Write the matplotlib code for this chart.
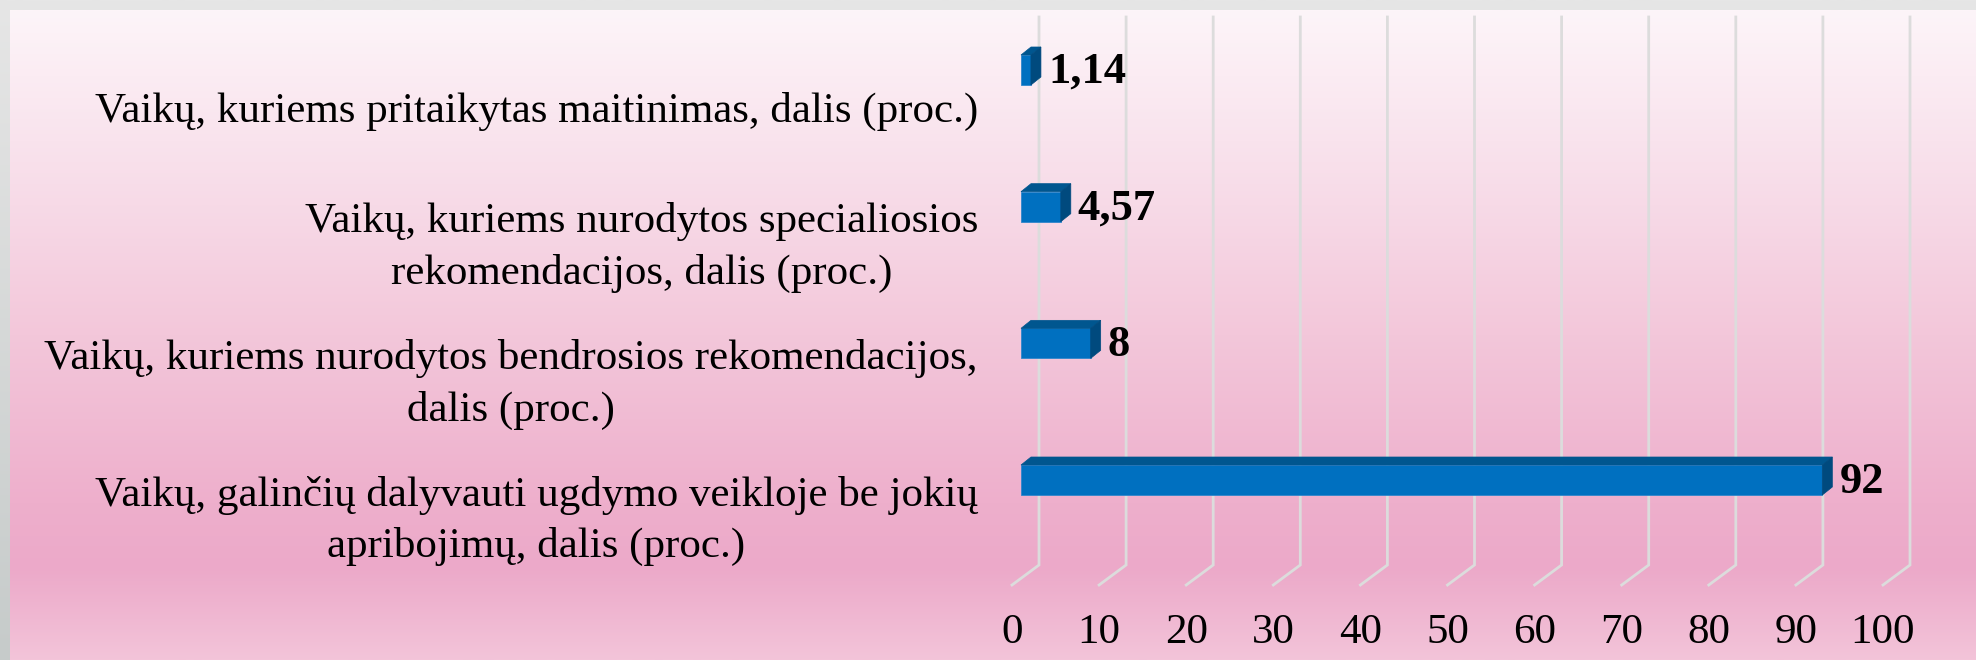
import numpy as np
import matplotlib
matplotlib.use("Agg")
import matplotlib.pyplot as plt
from matplotlib.patches import Polygon
from matplotlib.colors import LinearSegmentedColormap

# ---------------- data ----------------
categories = [
    "Vaikų, galinčių dalyvauti ugdymo veikloje be jokių\napribojimų, dalis (proc.)",
    "Vaikų, kuriems nurodytos bendrosios rekomendacijos,\ndalis (proc.)",
    "Vaikų, kuriems nurodytos specialiosios\nrekomendacijos, dalis (proc.)",
    "Vaikų, kuriems pritaikytas maitinimas, dalis (proc.)",
]
values = [92, 8, 4.57, 1.14]
value_labels = ["92", "8", "4,57", "1,14"]
xticks = [0, 10, 20, 30, 40, 50, 60, 70, 80, 90, 100]

# ---------------- layout constants (pixels) ----------------
W, H = 1976, 660
X0PX = 1039.0      # pixel of x=0 on back plane
PX = 8.71          # pixels per x unit
Y0PX = 480.0       # pixel (from top) of first category centre
PY = 136.67        # pixels per category

FONT = ["Liberation Serif", "DejaVu Serif"]
FS = 31

plt.rcParams["font.family"] = FONT

fig = plt.figure(figsize=(W / 100, H / 100), dpi=100)

# gray outer frame gradient
gax = fig.add_axes([0, 0, 1, 1])
gray = LinearSegmentedColormap.from_list("g", ["#e6e6e6", "#c6cbca"])
gax.imshow(np.linspace(0, 1, 256).reshape(-1, 1), aspect="auto", cmap=gray,
           extent=[0, 1, 0, 1], origin="upper")
gax.axis("off")

# pink panel gradient
pax = fig.add_axes([10 / W, 0, 1 - 10 / W, 1 - 10 / H])
pink = LinearSegmentedColormap.from_list(
    "p",
    [(0.0, "#fdf5f9"), (0.30, "#f7dae7"), (0.50, "#f3c7da"),
     (0.76, "#eeafcc"), (0.86, "#eca9c9"), (1.0, "#f3c4d9")])
pax.imshow(np.linspace(0, 1, 256).reshape(-1, 1), aspect="auto", cmap=pink,
           extent=[0, 1, 0, 1], origin="upper")
pax.axis("off")

# main drawing axes covering whole figure, data coords mapped to pixels
ax = fig.add_axes([0, 0, 1, 1])
ax.set_xlim((0 - X0PX) / PX, (W - X0PX) / PX)
ax.set_ylim((Y0PX - H) / PY, (Y0PX - 0) / PY)
ax.axis("off")
ax.patch.set_alpha(0)

def ypx(py):
    return (Y0PX - py) / PY

# gridlines with 3D floor
top_i = ypx(17)
floor_back = ypx(565)
floor_front = ypx(585)
for t in xticks:
    ax.plot([t, t, t - 27 / PX], [top_i, floor_back, floor_front],
            color="#dcdcdc", lw=2.0, zorder=1, solid_joinstyle="miter")
    ax.text(t - 27 / PX, ypx(633), str(t), ha="center", va="center",
            fontsize=FS, color="black")

# 3D bars
front_shift = 18 / PX
dx = 10 / PX
dy = 8 / PY
h = 30 / PY
ypos = np.arange(len(values))
L = -front_shift
ax.barh(ypos, values, left=L, height=h, color="#0070c0",
        edgecolor="#2f86cc", linewidth=0.6, zorder=3)
for y, v, lab, cat in zip(ypos, values, value_labels, categories):
    yt = y + h / 2
    yb = y - h / 2
    top = Polygon([(L, yt), (L + v, yt), (L + v + dx, yt + dy), (L + dx, yt + dy)],
                  closed=True, facecolor="#00568f", edgecolor="#00568f",
                  lw=0.5, zorder=3)
    side = Polygon([(L + v, yb), (L + v, yt), (L + v + dx, yt + dy), (L + v + dx, yb + dy)],
                   closed=True, facecolor="#004a7e", edgecolor="#004a7e",
                   lw=0.5, zorder=3)
    ax.add_patch(top)
    ax.add_patch(side)
    ax.text(L + v + dx + 7 / PX, y - 2 / PY, lab, ha="left", va="center",
            fontsize=FS + 1, fontweight="bold", color="black", zorder=4)
    ax.text((978 - X0PX) / PX, y - 41 / PY, cat, ha="right", va="center",
            multialignment="center", fontsize=FS, color="black",
            linespacing=1.42)

fig.savefig("out.png", dpi=100)
